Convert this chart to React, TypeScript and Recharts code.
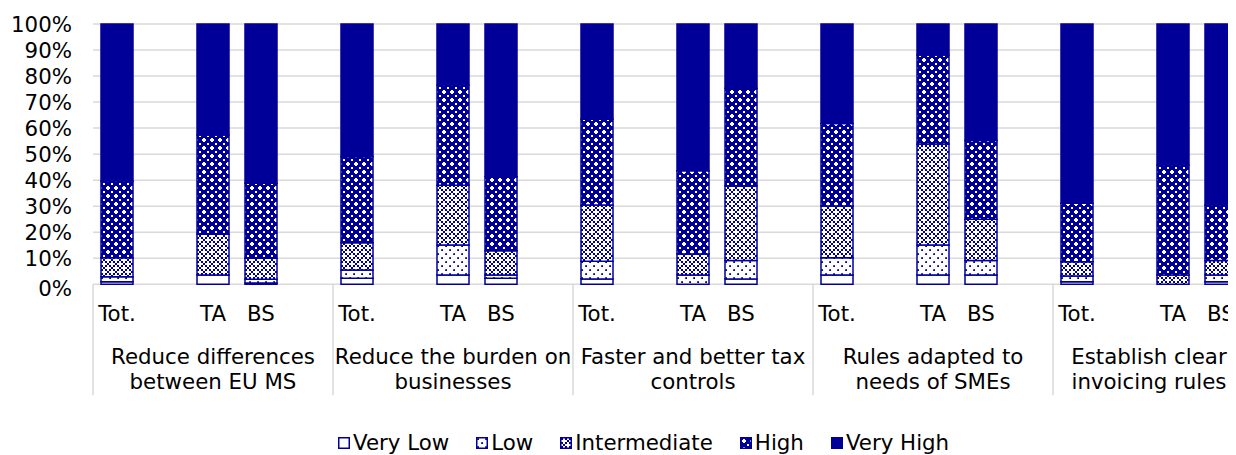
import React from 'react';
import { BarChart, Bar, XAxis, YAxis, CartesianGrid } from 'recharts';

const BLUE = '#000099';
const GRID = '#d9d9d9';
const FONT = '"DejaVu Sans", Verdana, sans-serif';
const FS = 21.33;
const VISIBLE_W = 1228;

const groups = [
  'Reduce differences\nbetween EU MS',
  'Reduce the burden on\nbusinesses',
  'Faster and better tax\ncontrols',
  'Rules adapted to\nneeds of SMEs',
  'Establish clear\ninvoicing rules',
];
const respondents = ['Tot.', 'TA', 'BS'];
const slotLayout = ['Tot.', '', 'TA', 'BS', ''];

// values in order: group1 Tot, TA, BS, group2 Tot, TA, BS, ...
const veryLow = [1, 3.6, 0.5, 2.3, 3.6, 2.3, 2, 0, 2, 3.6, 3.6, 3.6, 1, 0, 1];
const low = [1.9, 0, 1.4, 3.2, 11.5, 1.3, 6.9, 3.6, 7.1, 6.6, 11.5, 5.5, 2.2, 0, 2.6];
const intermediate = [7.3, 15.6, 8.1, 10.5, 23, 9.3, 21.6, 8, 28.7, 19.9, 38.8, 15.9, 5.5, 3.6, 5.5];
const high = [29.5, 38.2, 28.8, 33, 38.5, 28.4, 32.9, 32, 37.5, 31.7, 34.2, 30.2, 22.4, 42.2, 21.4];
const veryHigh = [60.3, 42.6, 61.2, 51, 23.4, 58.7, 36.6, 56.4, 24.7, 38.2, 11.9, 44.8, 68.9, 54.2, 69.5];

const yTicks = [0, 10, 20, 30, 40, 50, 60, 70, 80, 90, 100];

const seriesDefs = [
  { key: 'veryLow', name: 'Very Low', fill: 'url(#pVeryLow)', values: veryLow },
  { key: 'low', name: 'Low', fill: 'url(#pLow)', values: low },
  { key: 'intermediate', name: 'Intermediate', fill: 'url(#pInter)', values: intermediate },
  { key: 'high', name: 'High', fill: 'url(#pHigh)', values: high },
  { key: 'veryHigh', name: 'Very High', fill: BLUE, values: veryHigh },
];

type Row = { [k: string]: any };
const rows: Row[] = [];
groups.forEach((g, gi) => {
  slotLayout.forEach((lab, si) => {
    const row: Row = { key: `g${gi}s${si}`, label: lab, group: g, slot: si };
    const ri = respondents.indexOf(lab);
    if (lab && ri >= 0) {
      const idx = gi * respondents.length + ri;
      seriesDefs.forEach((s) => {
        row[s.key] = s.values[idx];
      });
    }
    rows.push(row);
  });
});

const plus = (cx: number, cy: number, arm: number, w: number, fill: string, k: string) => [
  <rect key={k + 'h'} x={cx - arm / 2} y={cy - w / 2} width={arm} height={w} fill={fill} />,
  <rect key={k + 'v'} x={cx - w / 2} y={cy - arm / 2} width={w} height={arm} fill={fill} />,
];

const cornerPluses = (arm: number, w: number, fill: string, k: string) =>
  [0, 8].flatMap((cx) => [0, 8].flatMap((cy) => plus(cx, cy, arm, w, fill, `${k}${cx}${cy}`)));

const PatternDefs = () => (
  <defs>
    <pattern id="pVeryLow" width="8" height="8" patternUnits="userSpaceOnUse">
      <rect width="8" height="8" fill="#fff" />
    </pattern>
    <pattern id="pLow" width="8" height="8" patternUnits="userSpaceOnUse">
      <rect width="8" height="8" fill="#fff" />
      <rect x="1.2" y="1.2" width="1.8" height="1.8" fill={BLUE} />
      <rect x="5.2" y="5.2" width="1.8" height="1.8" fill={BLUE} />
    </pattern>
    <pattern id="pInter" width="8" height="8" patternUnits="userSpaceOnUse">
      <rect width="8" height="8" fill={BLUE} />
      {plus(4, 4, 6, 2, '#fff', 'c')}
      {cornerPluses(6, 2, '#fff', 'k')}
    </pattern>
    <pattern id="pHigh" width="8" height="8" patternUnits="userSpaceOnUse">
      <rect width="8" height="8" fill={BLUE} />
      {plus(4, 4, 4, 2, '#fff', 'c')}
      {cornerPluses(2, 2, '#fff', 'k')}
    </pattern>
  </defs>
);

const YTick = (props: any) => {
  const { x, y, payload } = props;
  const v = payload.value;
  return (
    <text
      x={x}
      y={y + (v === 0 ? 4 : 0)}
      textAnchor="end"
      dominantBaseline="central"
      fontFamily={FONT}
      fontSize={FS}
      fill="#000"
    >
      {`${v}%`}
    </text>
  );
};

const XTick = (props: any) => {
  const { x, y, index } = props;
  const row = rows[index];
  if (!row) return null;
  const half = 24;
  const groupCenter = Math.min(x + half * 4, VISIBLE_W - 87);
  return (
    <g>
      {row.label ? (
        <text x={x} y={y + 29} textAnchor="middle" dominantBaseline="central" fontFamily={FONT} fontSize={FS} fill="#000">
          {row.label}
        </text>
      ) : null}
      {row.slot === 0 ? (
        <g>
          <line x1={x - half} x2={x - half} y1={y} y2={y + 111} stroke={GRID} strokeWidth={1.5} />
          {String(row.group)
            .split('\n')
            .map((ln: string, li: number) => (
              <text
                key={li}
                x={groupCenter}
                y={y + 72 + li * 25}
                textAnchor="middle"
                dominantBaseline="central"
                fontFamily={FONT}
                fontSize={FS}
                fill="#000"
              >
                {ln}
              </text>
            ))}
        </g>
      ) : null}
    </g>
  );
};

const LegendMarker = ({ fill }: { fill: string }) => (
  <svg width={12} height={12} style={{ display: 'block' }}>
    <rect x={0.75} y={0.75} width={10.5} height={10.5} fill={fill} stroke={BLUE} strokeWidth={1.5} />
  </svg>
);

export default function App() {
  return (
    <div style={{ position: 'relative', width: VISIBLE_W, height: 447, overflow: 'hidden', fontFamily: FONT }}>
      <BarChart width={1300} height={447} data={rows} margin={{ top: 16, right: 15, bottom: 0, left: 0 }} barSize={32}>
        <PatternDefs />
        <CartesianGrid vertical={false} stroke={GRID} strokeWidth={1.5} />
        <YAxis
          domain={[0, 100]}
          ticks={yTicks}
          interval={0}
          axisLine={false}
          tickLine={false}
          tickSize={0}
          tickMargin={21}
          width={85}
          tick={<YTick />}
        />
        <XAxis
          dataKey="key"
          interval={0}
          axisLine={false}
          tickLine={false}
          tickSize={0}
          tickMargin={0}
          height={170.7}
          tick={<XTick />}
        />
        {seriesDefs.map((s) => (
          <Bar
            key={s.key}
            dataKey={s.key}
            name={s.name}
            stackId="a"
            fill={s.fill}
            stroke={BLUE}
            strokeWidth={1.5}
            isAnimationActive={false}
          />
        ))}
      </BarChart>
      <div
        style={{
          position: 'absolute',
          left: 330,
          top: 423,
          display: 'flex',
          alignItems: 'center',
          fontSize: FS,
          fontFamily: FONT,
          color: '#000',
          whiteSpace: 'nowrap',
          lineHeight: '24px',
        }}
      >
        {seriesDefs.map((s, i) => (
          <div key={s.key} style={{ display: 'flex', alignItems: 'center', marginLeft: i === 0 ? 0 : 27 }}>
            <LegendMarker fill={s.fill} />
            <span style={{ marginLeft: 3 }}>{s.name}</span>
          </div>
        ))}
      </div>
    </div>
  );
}
